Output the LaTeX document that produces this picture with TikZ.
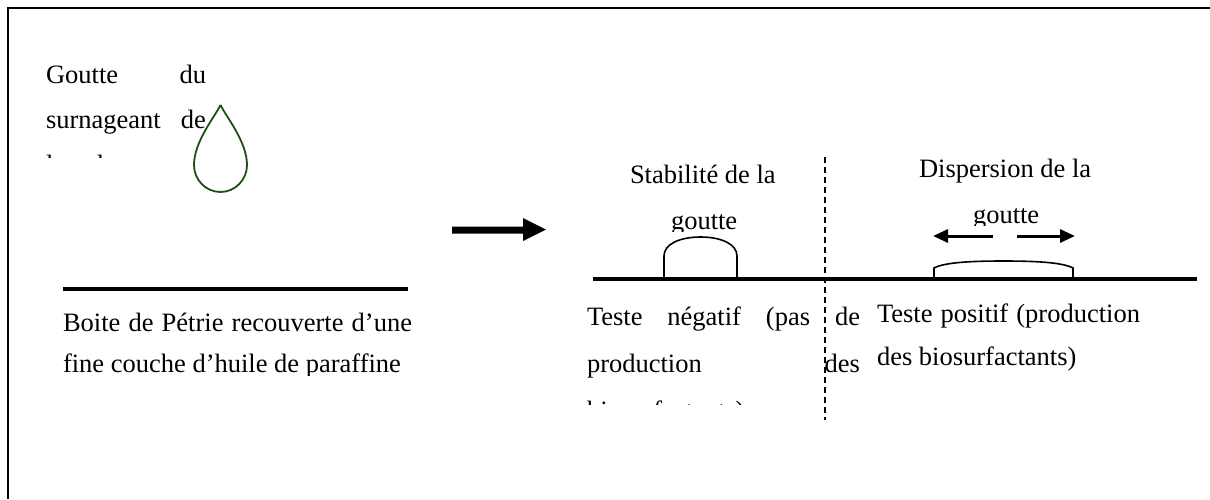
\documentclass[tikz,border=0pt]{standalone}
\usepackage{fontspec}
\setmainfont{Liberation Serif}
\usetikzlibrary{arrows.meta}
\definecolor{dropgreen}{RGB}{30,80,20}
\tikzset{
  txt/.style={anchor=base west, inner sep=0pt, outer sep=0pt, font=\fontsize{26.5}{30}\selectfont},
  ground/.style={line width=4pt},
  drop/.style={line width=1.6pt},
  smallarrow/.style={line width=3pt, -{Triangle[length=15pt,width=13pt]}},
}
\newcommand{\jline}[2]{\makebox[#1][s]{#2}}
\begin{document}
\begin{tikzpicture}[x=1pt,y=-1pt]
\useasboundingbox (0,0) rectangle (1210,499);
% frame
\draw[line width=2.2pt] (8,499) -- (8,8) -- (1210,8);

% left: drop of supernatant
\node[txt] (g1) at (46,83) {\jline{160pt}{Goutte du}};
\node[txt] (g2) at (46,128) {\jline{160pt}{surnageant de}};
\begin{scope}
  \clip (30,140) rectangle (260,157.5);
  \node[txt] (g3) at (46,173) {la culture};
\end{scope}
\draw[dropgreen, line width=1.8pt] (220.5,105)
  .. controls (214,118) and (194,142) .. (194,165)
  .. controls (194,180) and (206,192) .. (220.5,192)
  .. controls (235,192) and (247,180) .. (247,165)
  .. controls (247,142) and (227,118) .. (220.5,105);

% petri dish
\coordinate (p1) at (63,289);
\coordinate (p2) at (408,289);
\draw[ground] (p1) -- (p2);
\node[txt] (b1) at (63,331) {\jline{349pt}{Boite de Pétrie recouverte d’une}};
\begin{scope}
  \clip (40,340) rectangle (440,375);
  \node[txt] (b2) at (63,372) {fine couche d’huile de paraffine};
\end{scope}

% big arrow
\fill (452,226.5) -- (523,226.5) -- (523,218) -- (546,229.5) -- (523,241) -- (523,233.5) -- (452,233.5) -- cycle;

% right: ground line and dashed separator
\coordinate (r1) at (593,279);
\coordinate (r2) at (1197,279);
\draw[ground] (r1) -- (r2);
\coordinate (d1) at (825,157);
\coordinate (d2) at (825,420);
\draw[line width=1.5pt, dash pattern=on 6pt off 4pt] (d1) -- (d2);

% stable drop
\node[txt] (s1) at (630,183) {Stabilité de la};
\begin{scope}
  \clip (600,190) rectangle (780,231);
  \node[txt] (s2) at (671,229) {goutte};
\end{scope}
\draw[drop] (664,279) -- (664,256)
  .. controls (664,244) and (680,237) .. (700.5,237)
  .. controls (721,237) and (737,244) .. (737,256) -- (737,279);

% dispersed drop
\node[txt] (t1) at (919,177) {Dispersion de la};
\begin{scope}
  \clip (900,185) rectangle (1100,225);
  \node[txt] (t2) at (973,223) {goutte};
\end{scope}
\coordinate (la1) at (993,236);
\coordinate (la2) at (933,236);
\coordinate (ra1) at (1017,236);
\coordinate (ra2) at (1075,236);
\draw[smallarrow] (la1) -- (la2);
\draw[smallarrow] (ra1) -- (ra2);
\draw[drop] (934,279) -- (934,268)
  .. controls (945,262) and (975,261) .. (1003.5,261)
  .. controls (1032,261) and (1062,262) .. (1073,268) -- (1073,279);

% results
\node[txt] (n1) at (587,325) {\jline{273pt}{Teste négatif (pas de}};
\node[txt] (n2) at (587,372) {\jline{273pt}{production des}};
\begin{scope}
  \clip (570,385) rectangle (870,404);
  \node[txt] (n3) at (587,419) {biosurfactants)};
\end{scope}
\node[txt] (q1) at (877,322) {\jline{263pt}{Teste positif (production}};
\node[txt] (q2) at (877,365) {des biosurfactants)};
\end{tikzpicture}
\end{document}
